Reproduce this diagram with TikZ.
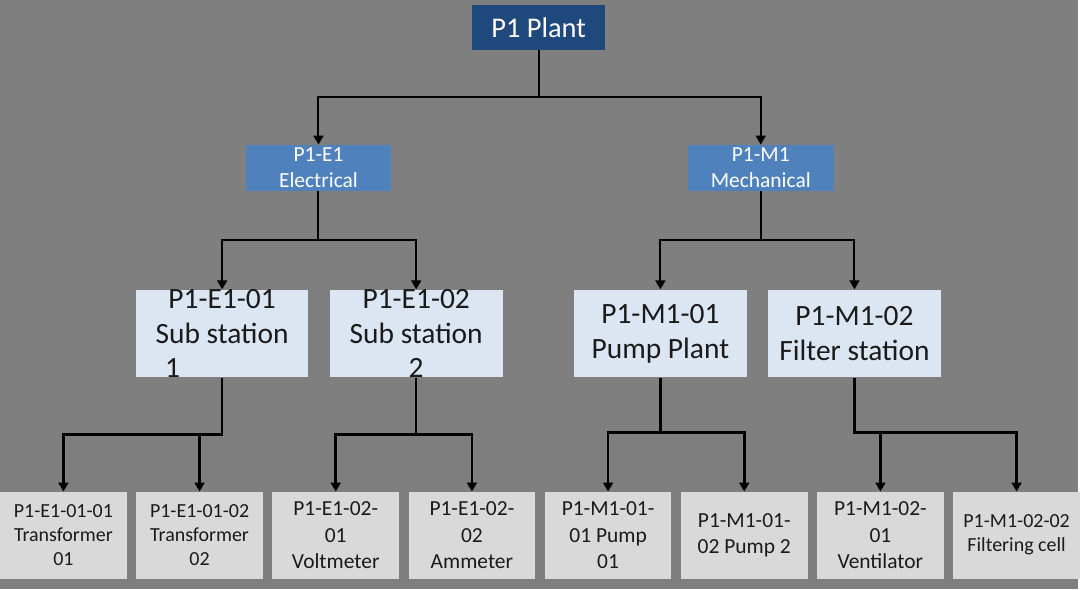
\documentclass[tikz,border=0pt]{standalone}
\usepackage{fontspec}
\setmainfont{Carlito}
\usepackage{tikz}
\usetikzlibrary{arrows.meta, positioning}
\definecolor{bggray}{HTML}{7F7F7F}
\definecolor{plantblue}{HTML}{1F497D}
\definecolor{areablue}{HTML}{4F81BD}
\definecolor{unitblue}{HTML}{DCE6F2}
\definecolor{itemgray}{HTML}{D9D9D9}
\definecolor{textdark}{HTML}{1A1A1A}

\begin{document}
\begin{tikzpicture}[x=1pt,y=-1pt,
    every node/.style={inner sep=0pt},
    plantbox/.style={fill=plantblue, minimum width=133pt, minimum height=45pt,
      text=white, font=\fontsize{28.5}{34}\selectfont},
    areabox/.style={fill=areablue, minimum width=146pt, minimum height=46pt,
      text=white, align=center, font=\fontsize{21.5}{25.5}\selectfont},
    unitbox/.style={fill=unitblue, minimum width=173pt, minimum height=88pt},
    unittext/.style={text=textdark, align=center, font=\fontsize{29.5}{35}\selectfont},
    itembox/.style={fill=itemgray, minimum width=127pt, minimum height=87pt,
      text=textdark, align=center, font=\fontsize{21.5}{26.5}\selectfont},
    smallitem/.style={font=\fontsize{20}{24}\selectfont},
    link/.style={draw=black, line width=2pt, -{Triangle[length=9pt,width=10pt]}},
    leaflink/.style={link, line width=2.5pt}]

        \fill[bggray] (0,0) rectangle (1080,590);

        \node[plantbox] (plant) at (539.5,27.5) {P1 Plant};
        \node[areabox] (e1) at (319,168) {P1-E1\\Electrical};
        \node[areabox] (m1) at (762,168) {P1-M1\\Mechanical};

        \node[unitbox, label={[unittext]center:{P1-E1-01\\Sub station\\\makebox[134pt][l]{\hspace{10pt}1}}}] (e101) at (222.5,334) {};
        \node[unitbox, label={[unittext]center:{P1-E1-02\\Sub station\\2}}] (e102) [right=21pt of e101] {};
        \node[unitbox, label={[unittext]center:{P1-M1-01\\Pump Plant}}] (m101) at (661.5,334) {};
        \node[unitbox, label={[unittext]center:{P1-M1-02\\Filter station}}] (m102) [right=21pt of m101] {};

        \node[itembox, smallitem] (e101a) at (63.5,536) {P1-E1-01-01\\Transformer\\01};
        \node[itembox, smallitem] (e101b) [right=9pt of e101a] {P1-E1-01-02\\Transformer\\02};
        \node[itembox] (e102a) [right=9pt of e101b] {P1-E1-02-\\01\\Voltmeter};
        \node[itembox] (e102b) [right=9pt of e102a] {P1-E1-02-\\02\\Ammeter};
        \node[itembox] (m101a) [right=9pt of e102b] {P1-M1-01-\\01 Pump\\01};
        \node[itembox] (m101b) [right=9pt of m101a] {P1-M1-01-\\02 Pump 2};
        \node[itembox] (m102a) [right=9pt of m101b] {P1-M1-02-\\01\\Ventilator};
        \node[itembox, smallitem] (m102b) [right=9pt of m102a] {P1-M1-02-02\\Filtering cell};

        % plant to areas
        \draw[link] (plant.south) -- ++(0,47) -| (e1.north);
        \draw[link] (plant.south) -- ++(0,47) -| (m1.north);

        % areas to units
        \draw[link] (e1.south) -- ++(0,49) -| (e101.north);
        \draw[link] (e1.south) -- ++(0,49) -| (e102.north);
        \draw[link] (m1.south) -- ++(0,49) -| (m101.north);
        \draw[link] (m1.south) -- ++(0,49) -| (m102.north);

        % units to items
        \draw[leaflink] (e101.south) -- ++(0,57) -| (e101a.north);
        \draw[leaflink] (e101.south) -- ++(0,57) -| (e101b.north);
        \draw[leaflink] (e102.south) -- ++(0,57) -| (e102a.north);
        \draw[leaflink] (e102.south) -- ++(0,57) -| (e102b.north);
        \draw[leaflink] (m101.south) -- ++(0,55) -| (m101a.north);
        \draw[leaflink] (m101.south) -- ++(0,55) -| (m101b.north);
        \draw[leaflink] (m102.south) -- ++(0,55) -| (m102a.north);
        \draw[leaflink] (m102.south) -- ++(0,55) -| (m102b.north);
      \end{tikzpicture}
\end{document}
